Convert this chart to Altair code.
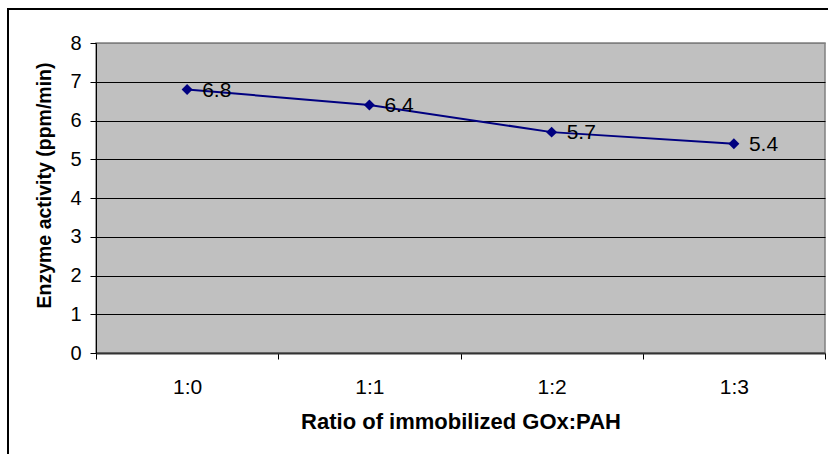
import altair as alt
import pandas as pd

ratios = ["1:0", "1:1", "1:2", "1:3"]
activity = [6.8, 6.4, 5.7, 5.4]
labels = ["6.8", "6.4", "5.7", "5.4"]
y_ticks = [0, 1, 2, 3, 4, 5, 6, 7, 8]

df = pd.DataFrame({"ratio": ratios, "activity": activity, "label": labels})

FONT = "Liberation Sans"

x_enc = alt.X(
    "ratio:N",
    sort=ratios,
    scale=alt.Scale(paddingInner=0, paddingOuter=0),
    axis=alt.Axis(
        title="Ratio of immobilized GOx:PAH",
        labelAngle=0,
        labelFontSize=21,
        tickBand="extent",
        tickSize=6,
        labelPadding=17,
        titleFontSize=22,
        titleBaseline="alphabetic",
        titleY=75,
        domainColor="#333333",
        domainWidth=2,
        tickColor="black",
    ),
)
y_enc = alt.Y(
    "activity:Q",
    scale=alt.Scale(domain=[0, 8], nice=False, zero=True),
    axis=alt.Axis(
        title="Enzyme activity (ppm/min)",
        values=y_ticks,
        labelFontSize=20,
        tickSize=6,
        labelPadding=9,
        titleFontSize=19.5,
        titleBaseline="alphabetic",
        titleX=-46,
        titleY=142,
        grid=True,
        gridColor={"condition": {"test": "datum.value == 8 || datum.value == 0", "value": "#808080"}, "value": "black"},
        gridWidth=1,
        domainColor="black",
        tickColor="black",
    ),
)

base = alt.Chart(df).encode(x=x_enc, y=y_enc)

line = base.mark_line(color="#000080", strokeWidth=2)
points = base.mark_point(shape="diamond", filled=True, size=120, color="#000080", opacity=1)
texts = base.mark_text(align="left", baseline="middle", dx=15, dy=1, fontSize=21, font=FONT, color="black").encode(text="label:N")

frame = pd.DataFrame({"k": [0]})
border_v = alt.Chart(frame).mark_rule(color="black", strokeWidth=2).encode(
    x=alt.value(-88), y=alt.value(-34), y2=alt.value(420)
)
border_h = alt.Chart(frame).mark_rule(color="black", strokeWidth=2).encode(
    x=alt.value(-89), x2=alt.value(740), y=alt.value(-34)
)

chart = (
    alt.layer(line, points, texts, border_v, border_h)
    .properties(
        width=729,
        height=310,
        autosize=alt.AutoSizeParams(type="none"),
        padding={"left": 96, "top": 43, "right": 3, "bottom": 101},
        background="white",
    )
    .configure_view(fill="#C0C0C0", stroke="#808080", strokeWidth=1.5)
    .configure_axis(
        labelFont=FONT,
        labelColor="black",
        titleFont=FONT,
        titleFontWeight="bold",
        titleColor="black",
    )
)

chart.save("out.html", embed_options={"renderer": "svg", "actions": False})
